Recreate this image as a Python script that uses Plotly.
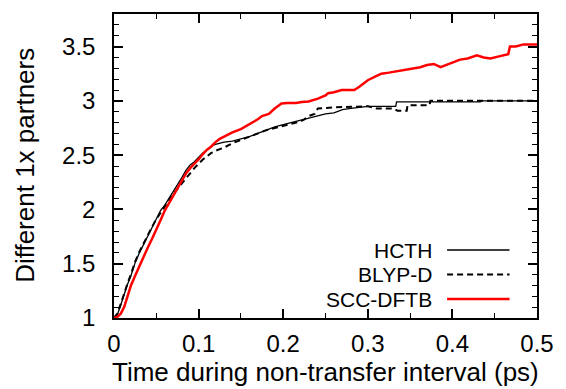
import plotly.graph_objects as go

# ---- data ----
hcth_t = [0, 0.004, 0.008, 0.012, 0.016, 0.02, 0.025, 0.03, 0.035, 0.04, 0.045, 0.05,
          0.055, 0.06, 0.065, 0.07, 0.075, 0.08, 0.085, 0.09, 0.095, 0.1, 0.105, 0.11,
          0.115, 0.12, 0.13, 0.14, 0.15, 0.16, 0.17, 0.18, 0.19, 0.2, 0.21, 0.22, 0.23,
          0.24, 0.25, 0.26, 0.27, 0.28, 0.29, 0.30, 0.333, 0.334, 0.433, 0.434, 0.5]
hcth_v = [1.0, 1.03, 1.12, 1.22, 1.31, 1.39, 1.51, 1.60, 1.68, 1.76, 1.84, 1.92,
          1.99, 2.04, 2.10, 2.16, 2.22, 2.29, 2.36, 2.41, 2.44, 2.48, 2.52, 2.55,
          2.58, 2.60, 2.62, 2.63, 2.65, 2.67, 2.70, 2.73, 2.76, 2.78, 2.80, 2.82, 2.84,
          2.86, 2.88, 2.89, 2.92, 2.93, 2.94, 2.95, 2.95, 2.99, 2.99, 3.0, 3.0]

blyp_t = [0, 0.004, 0.008, 0.012, 0.016, 0.02, 0.025, 0.03, 0.035, 0.04, 0.045, 0.05,
          0.055, 0.06, 0.065, 0.07, 0.075, 0.08, 0.085, 0.09, 0.095, 0.1, 0.105, 0.11,
          0.115, 0.12, 0.13, 0.14, 0.15, 0.16, 0.17, 0.18, 0.19, 0.2, 0.21, 0.22, 0.225,
          0.23, 0.237, 0.241, 0.26, 0.288, 0.30, 0.31, 0.33, 0.335, 0.346, 0.347, 0.373,
          0.374, 0.5]
blyp_v = [1.0, 1.04, 1.13, 1.23, 1.32, 1.40, 1.52, 1.61, 1.69, 1.77, 1.84, 1.91,
          1.97, 2.03, 2.09, 2.14, 2.19, 2.24, 2.29, 2.34, 2.38, 2.42, 2.46, 2.49,
          2.52, 2.54, 2.57, 2.61, 2.64, 2.67, 2.70, 2.73, 2.75, 2.77, 2.79, 2.81, 2.83,
          2.86, 2.88, 2.93, 2.94, 2.95, 2.95, 2.93, 2.93, 2.91, 2.91, 2.96, 2.96,
          3.0, 3.0]

scc_t = [0, 0.004, 0.008, 0.012, 0.016, 0.02, 0.025, 0.03, 0.035, 0.04, 0.045, 0.05,
         0.055, 0.06, 0.065, 0.07, 0.075, 0.08, 0.085, 0.09, 0.095, 0.1, 0.105, 0.11,
         0.115, 0.12, 0.125, 0.13, 0.136, 0.14, 0.15, 0.159, 0.165, 0.17, 0.175, 0.183,
         0.19, 0.198, 0.205, 0.215, 0.222, 0.23, 0.241, 0.25, 0.253, 0.26, 0.269, 0.284,
         0.29, 0.3, 0.308, 0.316, 0.325, 0.339, 0.35, 0.362, 0.37, 0.378, 0.386, 0.395,
         0.409, 0.418, 0.429, 0.437, 0.445, 0.455, 0.464, 0.466, 0.468, 0.475, 0.484, 0.5]
scc_v = [1.0, 1.01, 1.04, 1.10, 1.20, 1.30, 1.39, 1.48, 1.57, 1.65, 1.73, 1.81,
         1.90, 1.99, 2.06, 2.12, 2.19, 2.26, 2.33, 2.38, 2.42, 2.46, 2.51, 2.55,
         2.58, 2.62, 2.65, 2.67, 2.70, 2.71, 2.74, 2.78, 2.80, 2.83, 2.86, 2.88,
         2.93, 2.975, 2.98, 2.98, 2.99, 2.995, 3.02, 3.05, 3.07, 3.08, 3.10, 3.10,
         3.13, 3.19, 3.22, 3.25, 3.26, 3.28, 3.29, 3.31, 3.33, 3.34, 3.31, 3.34,
         3.38, 3.39, 3.42, 3.40, 3.39, 3.41, 3.43, 3.43, 3.50, 3.50, 3.52, 3.52]

series_names = ["HCTH", "BLYP-D", "SCC-DFTB"]
x_title = "Time during non-transfer interval (ps)"
y_title = "Different 1x partners"

FONT = "Liberation Sans, Arial, Helvetica, sans-serif"

fig = go.Figure()
fig.add_trace(go.Scatter(x=hcth_t, y=hcth_v, mode="lines", name=series_names[0],
                         line=dict(color="black", width=1.3)))
fig.add_trace(go.Scatter(x=blyp_t, y=blyp_v, mode="lines", name=series_names[1],
                         line=dict(color="black", width=2, dash="6px,4px")))
fig.add_trace(go.Scatter(x=scc_t, y=scc_v, mode="lines", name=series_names[2],
                         line=dict(color="#ff0000", width=2.5)))

axis_common = dict(
    showline=True, linecolor="black", linewidth=1.5, mirror="allticks",
    ticks="inside", ticklen=9, tickwidth=1.5, tickcolor="black",
    showgrid=False, zeroline=False,
    tickfont=dict(family=FONT, size=24, color="black"),
)

fig.update_xaxes(range=[0, 0.5], dtick=0.1, tick0=0,
                 minor=dict(dtick=0.05, ticks="inside", ticklen=5, tickwidth=1.2, tickcolor="black"),
                 ticklabelstandoff=3, **axis_common)
fig.update_yaxes(range=[1, 3.8], dtick=0.5, tick0=1,
                 minor=dict(dtick=0.1, ticks="inside", ticklen=5, tickwidth=1.2, tickcolor="black"),
                 ticklabelstandoff=12, **axis_common)

annotations = [
    dict(text=x_title, xref="paper", yref="paper", x=0.5, y=-54 / 304,
         xanchor="center", yanchor="middle", showarrow=False,
         font=dict(family=FONT, size=26, color="black")),
    dict(text=y_title, xref="paper", yref="paper", x=-90 / 426.7, y=0.503,
         xanchor="center", yanchor="middle", textangle=-90, showarrow=False,
         font=dict(family=FONT, size=26, color="black")),
]

# manual legend (text right-aligned, sample line on the right)
leg_y = [250, 274.5, 299]
leg_styles = [dict(color="black", width=1.3), dict(color="black", width=2, dash="6px,4px"),
              dict(color="#ff0000", width=2.5)]
shapes = []
for name, yy, st in zip(series_names, leg_y, leg_styles):
    yp = 1 - (yy - 14) / 304
    annotations.append(dict(text=name, xref="paper", yref="paper", x=(436 - 114) / 426.7, y=yp,
                            xanchor="right", yanchor="middle", showarrow=False, borderpad=0,
                            font=dict(family=FONT, size=21, color="black")))
    shapes.append(dict(type="line", xref="paper", yref="paper",
                       x0=(450 - 114) / 426.7, x1=(513 - 114) / 426.7, y0=yp, y1=yp, line=st))

fig.update_layout(
    width=566, height=389,
    margin=dict(l=114, r=25, t=14, b=71),
    plot_bgcolor="white", paper_bgcolor="white",
    showlegend=False,
    annotations=annotations, shapes=shapes,
    font=dict(family=FONT, color="black"),
)

fig.write_html("out.html")
